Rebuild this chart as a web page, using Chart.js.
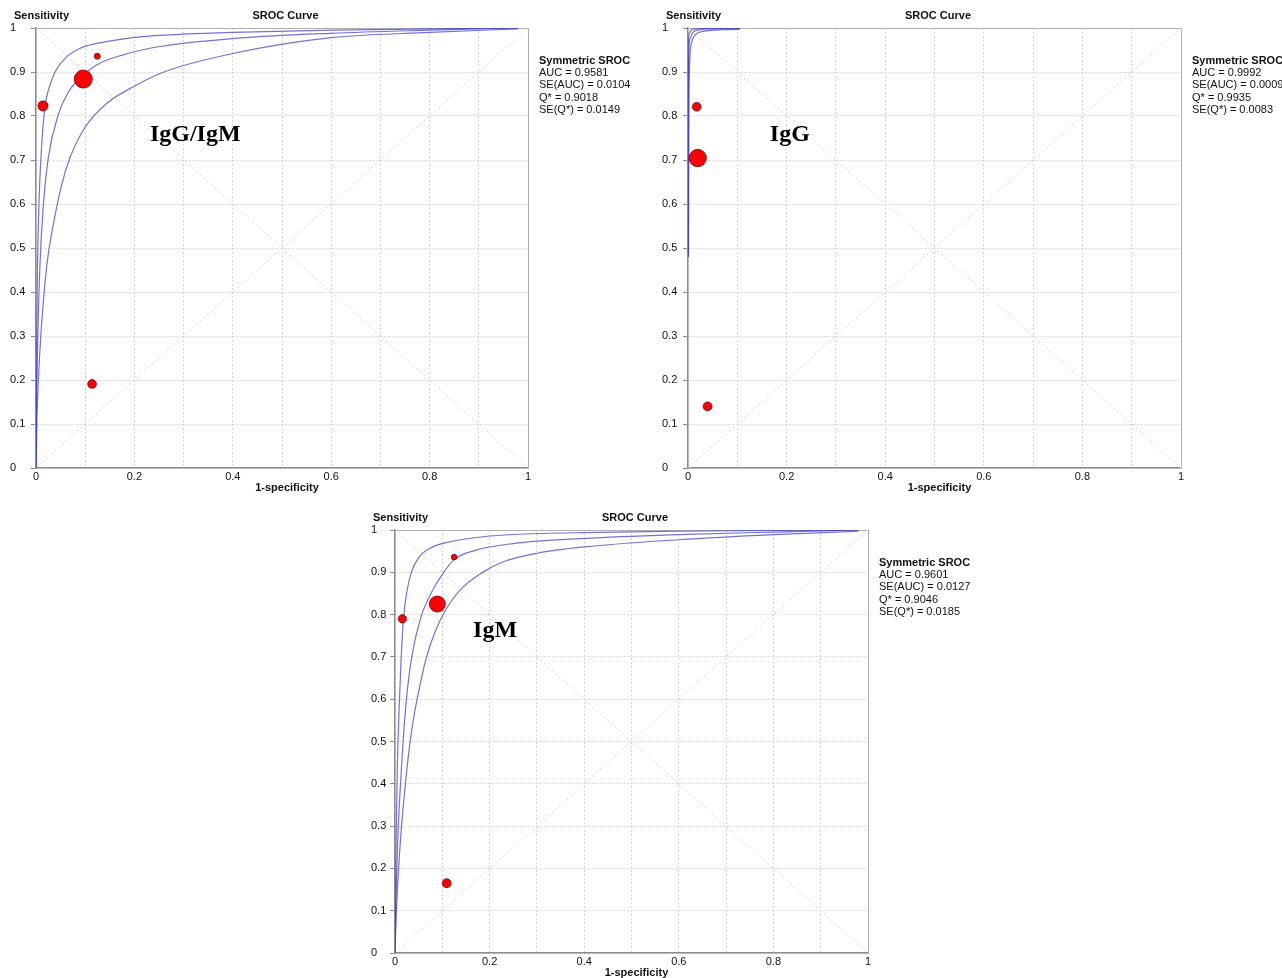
<!DOCTYPE html>
<html><head><meta charset="utf-8">
<script src="https://cdn.jsdelivr.net/npm/chart.js@4.4.0/dist/chart.umd.min.js"></script>
<style>
html,body{margin:0;padding:0;background:#fff;}
body{width:1282px;height:978px;position:relative;overflow:hidden;}
canvas{position:absolute;display:block;}
</style></head><body>
<canvas id="c1" width="640" height="500" style="left:0;top:0"></canvas>
<canvas id="c2" width="642" height="500" style="left:640px;top:0"></canvas>
<canvas id="c3" width="640" height="478" style="left:340px;top:500px"></canvas>
<script>
// ---- tick labels ----
const xTickLabels = ['0','','0.2','','0.4','','0.6','','0.8','','1'];
const yTickLabels = ['0','0.1','0.2','0.3','0.4','0.5','0.6','0.7','0.8','0.9','1'];
const diagRiseX = [0, 1], diagRiseY = [0, 1];
const diagFallX = [0, 1], diagFallY = [1, 0];

// ---- Chart 1: IgG/IgM ----
const c1UpperX = [0, 0.0005, 0.0012, 0.003, 0.006, 0.010, 0.018, 0.027, 0.04, 0.06, 0.09, 0.143, 0.211, 0.3, 0.4, 0.6, 0.8, 0.98];
const c1UpperY = [0, 0.12, 0.27, 0.46, 0.6, 0.705, 0.82, 0.865, 0.903, 0.932, 0.954, 0.969, 0.98, 0.986, 0.99, 0.995, 0.998, 1.0];
const c1MidX = [0, 0.0008, 0.003, 0.008, 0.015, 0.025, 0.045, 0.066, 0.089, 0.123, 0.177, 0.252, 0.4, 0.6, 0.8, 0.98];
const c1MidY = [0, 0.12, 0.268, 0.461, 0.598, 0.705, 0.802, 0.855, 0.885, 0.916, 0.939, 0.958, 0.976, 0.988, 0.995, 1.0];
const c1LowerX = [0, 0.002, 0.008, 0.022, 0.035, 0.052, 0.069, 0.1, 0.143, 0.197, 0.26, 0.4, 0.6, 0.8, 0.98];
const c1LowerY = [0, 0.116, 0.268, 0.461, 0.552, 0.643, 0.705, 0.775, 0.828, 0.866, 0.9, 0.942, 0.978, 0.99, 0.998];
const c1StudyFpr = [0.0142, 0.096, 0.1245, 0.114];
const c1StudySens = [0.823, 0.884, 0.936, 0.191];
const c1StudyWeight = [25, 81, 9, 19];
const c1Stats = ['AUC = 0.9581', 'SE(AUC) = 0.0104', 'Q* = 0.9018', 'SE(Q*) = 0.0149'];

// ---- Chart 2: IgG ----
const c2UpperX = [0, 0.0005, 0.002, 0.006, 0.015, 0.04, 0.105];
const c2UpperY = [0.48, 0.95, 0.985, 0.995, 0.998, 0.999, 0.9995];
const c2MidX = [0.0005, 0.001, 0.004, 0.01, 0.025, 0.06, 0.105];
const c2MidY = [0.48, 0.9, 0.975, 0.99, 0.996, 0.998, 0.999];
const c2LowerX = [0.001, 0.002, 0.006, 0.015, 0.035, 0.07, 0.105];
const c2LowerY = [0.48, 0.85, 0.96, 0.985, 0.993, 0.996, 0.997];
const c2StudyFpr = [0.0176, 0.0197, 0.0397];
const c2StudySens = [0.821, 0.7045, 0.140];
const c2StudyWeight = [19, 75, 20];
const c2Stats = ['AUC = 0.9992', 'SE(AUC) = 0.0009', 'Q* = 0.9935', 'SE(Q*) = 0.0083'];

// ---- Chart 3: IgM ----
const c3UpperX = [0, 0.0008, 0.002, 0.005, 0.009, 0.013, 0.018, 0.025, 0.035, 0.049, 0.074, 0.116, 0.186, 0.264, 0.4, 0.6, 0.8, 0.98];
const c3UpperY = [0, 0.12, 0.243, 0.444, 0.586, 0.697, 0.791, 0.854, 0.901, 0.933, 0.957, 0.972, 0.984, 0.99, 0.994, 0.997, 0.999, 1.0];
const c3MidX = [0, 0.0015, 0.005, 0.014, 0.023, 0.035, 0.054, 0.078, 0.1, 0.125, 0.17, 0.25, 0.4, 0.6, 0.8, 0.98];
const c3MidY = [0, 0.1, 0.243, 0.444, 0.586, 0.697, 0.791, 0.854, 0.895, 0.93, 0.952, 0.968, 0.98, 0.989, 0.995, 1.0];
const c3LowerX = [0, 0.003, 0.01, 0.026, 0.037, 0.053, 0.066, 0.085, 0.109, 0.141, 0.187, 0.229, 0.3, 0.4, 0.6, 0.8, 0.98];
const c3LowerY = [0, 0.1, 0.243, 0.444, 0.539, 0.634, 0.697, 0.76, 0.815, 0.862, 0.901, 0.925, 0.945, 0.96, 0.977, 0.989, 0.997];
const c3StudyFpr = [0.0155, 0.0895, 0.125, 0.1093];
const c3StudySens = [0.790, 0.825, 0.936, 0.165];
const c3StudyWeight = [17, 64, 8, 20];
const c3Stats = ['AUC = 0.9601', 'SE(AUC) = 0.0127', 'Q* = 0.9046', 'SE(Q*) = 0.0185'];

const FONT = 'Arial, "Liberation Sans", sans-serif';
Chart.defaults.font.family = FONT;

function pts(xs, ys) { return xs.map((x, i) => ({x: x, y: ys[i]})); }
function curve(xs, ys) {
  return {data: pts(xs, ys), showLine: true, borderColor: 'rgba(60,60,205,0.72)', borderWidth: 1.2,
          pointRadius: 0, cubicInterpolationMode: 'monotone', fill: false, order: 1};
}
function diag(xs, ys) {
  return {data: pts(xs, ys), showLine: true, borderColor: '#d2d2d2', borderWidth: 1, borderDash: [2, 3],
          pointRadius: 0, fill: false, order: 2};
}

const decor = {
  id: 'decor',
  beforeDatasetsDraw(chart) {
    const {ctx, chartArea: a} = chart;
    ctx.save();
    ctx.strokeStyle = '#b0b0b0';
    ctx.lineWidth = 1;
    ctx.beginPath();
    ctx.moveTo(a.left, Math.round(a.top) + 0.5);
    ctx.lineTo(Math.round(a.right) + 0.5, Math.round(a.top) + 0.5);
    ctx.lineTo(Math.round(a.right) + 0.5, a.bottom);
    ctx.stroke();
    ctx.restore();
  },
  afterDraw(chart, args, o) {
    const {ctx, chartArea: a, scales: {x, y}} = chart;
    ctx.save();
    ctx.fillStyle = '#111';
    ctx.font = 'bold 11px ' + FONT;
    ctx.textBaseline = 'middle';
    ctx.textAlign = 'left';
    ctx.fillText('Sensitivity', a.left - 22, a.top - 12);
    const cx = (a.left + a.right) / 2;
    ctx.textAlign = 'center';
    ctx.fillText('SROC Curve', cx + 3.5, a.top - 12);
    ctx.fillText('1-specificity', cx + 5, a.bottom + 20);
    ctx.textAlign = 'left';
    ctx.fillText('Symmetric SROC', a.right + 11, a.top + 33);
    ctx.font = '11px ' + FONT;
    o.stats.forEach((s, i) => ctx.fillText(s, a.right + 11, a.top + 33 + 12.2 * (i + 1)));
    ctx.fillStyle = '#000';
    ctx.font = 'bold 24px "Liberation Serif", "Times New Roman", serif';
    ctx.textBaseline = 'alphabetic';
    ctx.fillText(o.label, x.getPixelForValue(o.labelX), y.getPixelForValue(o.labelY));
    ctx.restore();
  }
};

function makeChart(id, d) {
  return new Chart(document.getElementById(id), {
    type: 'scatter',
    data: {
      datasets: [
        {data: pts(d.fpr, d.sens), pointRadius: d.weight.map(w => Math.sqrt(w)),
         pointBackgroundColor: '#ff0000', pointBorderColor: '#7a0000', pointBorderWidth: 0.8,
         showLine: false, order: 0},
        curve(d.ux, d.uy), curve(d.mx, d.my), curve(d.lx, d.ly),
        diag(diagRiseX, diagRiseY), diag(diagFallX, diagFallY)
      ]
    },
    options: {
      responsive: false, animation: false, events: [],
      layout: {padding: d.pad},
      plugins: {legend: {display: false}, tooltip: {enabled: false},
        decor: {stats: d.stats, label: d.label, labelX: d.labelX, labelY: d.labelY}},
      scales: {
        x: {type: 'linear', min: 0, max: 1,
            afterFit(s) { s.height = d.xh; },
            ticks: {stepSize: 0.1, autoSkip: false, maxRotation: 0, padding: 2, color: '#111',
                    font: {size: 11}, callback: (v, i) => xTickLabels[i]},
            grid: {color: '#d6d6d6', drawTicks: false, lineWidth: 1},
            border: {color: '#8c8c8c', width: 1.5, dash: [2, 2]}},
        y: {type: 'linear', min: 0, max: 1,
            afterFit(s) { s.width = d.yw; },
            ticks: {stepSize: 0.1, autoSkip: false, padding: 3, crossAlign: 'far', color: '#111',
                    font: {size: 11}, callback: (v, i) => yTickLabels[i]},
            grid: {color: '#d6d6d6', tickLength: 5, tickColor: '#8c8c8c', lineWidth: 1},
            border: {color: '#8c8c8c', width: 1.5, dash: [2, 2]}}
      }
    },
    plugins: [decor]
  });
}

makeChart('c1', {fpr: c1StudyFpr, sens: c1StudySens, weight: c1StudyWeight,
  ux: c1UpperX, uy: c1UpperY, mx: c1MidX, my: c1MidY, lx: c1LowerX, ly: c1LowerY,
  stats: c1Stats, label: 'IgG/IgM', labelX: 0.2315, labelY: 0.743,
  pad: {left: 10, right: 112, top: 28, bottom: 12}, xh: 20, yw: 26});
makeChart('c2', {fpr: c2StudyFpr, sens: c2StudySens, weight: c2StudyWeight,
  ux: c2UpperX, uy: c2UpperY, mx: c2MidX, my: c2MidY, lx: c2LowerX, ly: c2LowerY,
  stats: c2Stats, label: 'IgG', labelX: 0.166, labelY: 0.743,
  pad: {left: 22, right: 101, top: 28, bottom: 12}, xh: 20, yw: 26});
makeChart('c3', {fpr: c3StudyFpr, sens: c3StudySens, weight: c3StudyWeight,
  ux: c3UpperX, uy: c3UpperY, mx: c3MidX, my: c3MidY, lx: c3LowerX, ly: c3LowerY,
  stats: c3Stats, label: 'IgM', labelX: 0.165, labelY: 0.747,
  pad: {left: 31, right: 112, top: 30, bottom: 9}, xh: 16, yw: 24});
</script>
</body></html>
